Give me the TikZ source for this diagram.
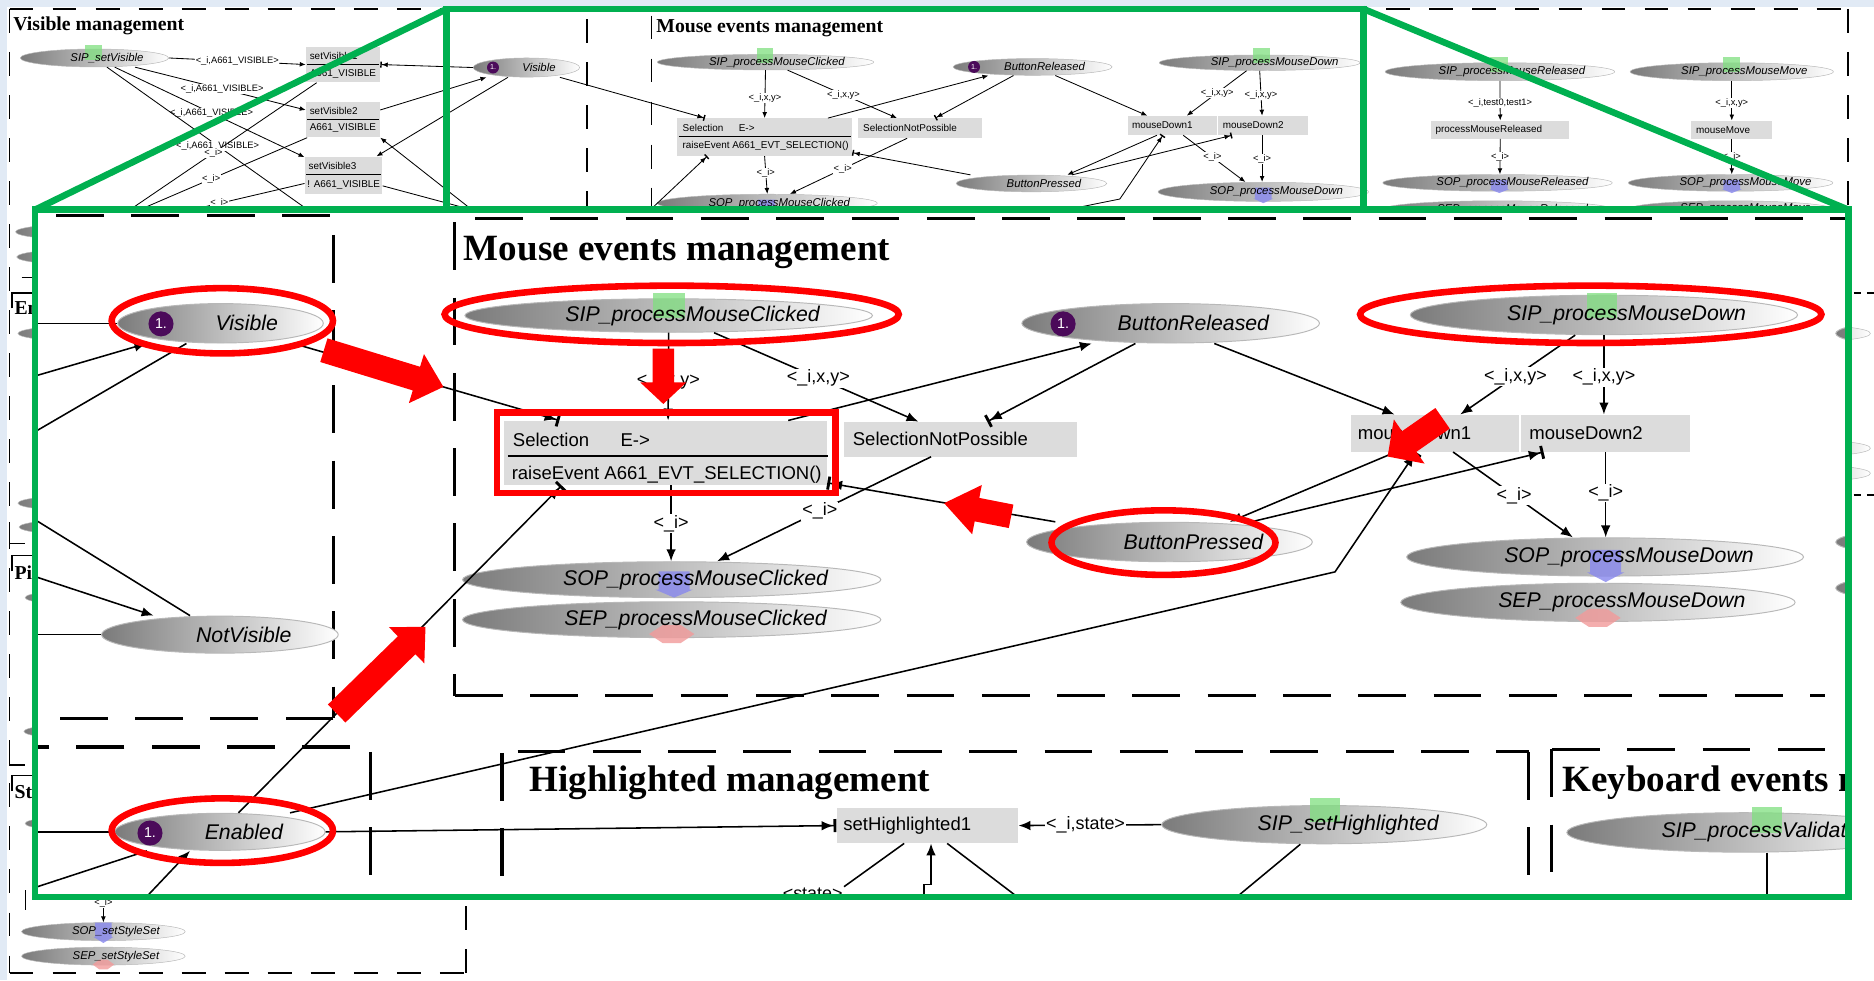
\documentclass[tikz,border=0pt]{standalone}
\usepackage{fontspec}
\setmainfont{Liberation Sans}
\newfontfamily\titlefont{Liberation Serif}
\usetikzlibrary{arrows.meta,shapes.geometric}

\definecolor{pagebg}{HTML}{E1EAF5}
\definecolor{zoomgreen}{HTML}{00B050}
\definecolor{hlred}{HTML}{FF0000}
\definecolor{boxgray}{HTML}{DCDCDC}
\definecolor{tokpurple}{HTML}{4B0A5A}
\definecolor{sipgreen}{HTML}{7FE07F}
\definecolor{sopblue}{HTML}{8888EE}
\definecolor{seppink}{HTML}{F29A9A}

\tikzset{
 ellbase/.style={ellipse, inner sep=0pt, left color=black!52, right color=white},
 ovellsh/.style={ellbase, draw=black!28, line width=0.4pt},
 inellsh/.style={ellbase, draw=black!28, line width=0.8pt},
 ovtxt/.style={inner sep=0pt, font=\fontsize{9.5}{10}\selectfont\itshape},
 intxt/.style={inner sep=0pt, font=\fontsize{17.8}{19}\selectfont\itshape},
 ovbox/.style={rectangle, fill=boxgray, inner sep=0pt},
 inbox/.style={rectangle, fill=boxgray, inner sep=0pt},
 ovboxtxt/.style={anchor=west, inner sep=0pt, font=\fontsize{8.3}{9}\selectfont},
 inboxtxt/.style={anchor=west, inner sep=0pt, font=\fontsize{15.5}{17}\selectfont},
 ovlbl/.style={fill=white, inner sep=0.5pt, font=\fontsize{7.8}{8}\selectfont},
 inlbl/.style={fill=white, inner sep=1pt, font=\fontsize{15}{16}\selectfont},
 ovline/.style={draw=black, line width=0.7pt},
 ovarr/.style={ovline, -{Latex[length=5pt,width=4pt]}},
 ovtb/.style={ovline, -{Latex[length=5pt,width=4pt]Bar[width=5pt,line width=1.2pt]}},
 inln/.style={draw=black, line width=1.3pt},
 inarr/.style={inln, -{Latex[length=10pt,width=8pt]}},
 intb/.style={inln, -{Latex[length=10pt,width=8pt]Bar[width=11pt,line width=2.4pt]}},
 ovdash/.style={draw=black, line width=1.4pt, dash pattern=on 20pt off 16pt},
 shortdash/.style={draw=black, line width=1.2pt, dash pattern=on 6pt off 5pt},
 indash/.style={draw=black, line width=2.6pt, dash pattern=on 40pt off 23pt},
 tokov/.style={circle, fill=tokpurple, text=white, inner sep=0pt, minimum size=10pt, font=\fontsize{6}{6}\selectfont},
 tokin/.style={circle, fill=tokpurple, text=white, inner sep=0pt, minimum size=21pt, font=\fontsize{12}{12}\selectfont},
 hl/.style={draw=hlred, line width=5.5pt},
 zoomframe/.style={draw=zoomgreen, line width=5.5pt},
 ovtitle/.style={anchor=base west, inner sep=0pt, font=\titlefont\bfseries\fontsize{16.5}{17}\selectfont},
 intitle/.style={anchor=base west, inner sep=0pt, font=\titlefont\bfseries\fontsize{31}{33}\selectfont},
}

% place: name, centre, width, height, text x-offset, text, marker code
\newcommand\ovell[7]{%
 \node[ovellsh, minimum width=#3pt, minimum height=#4pt] (#1) at (#2) {};
 #7
 \node[ovtxt] (#1-t) at ([xshift=#5pt]#1.center) {#6};}
\newcommand\inell[7]{%
 \node[inellsh, minimum width=#3pt, minimum height=#4pt] (#1) at (#2) {};
 #7
 \node[intxt] (#1-t) at ([xshift=#5pt]#1.center) {#6};}
% input place marker: x1, y1, x2, y2
\newcommand\sipmark[4]{\fill[sipgreen,opacity=0.75] (#1,#2) rectangle (#3,#4);}
% output place marker: centre x, top, bottom, half width
\newcommand\sopmark[4]{\fill[sopblue,opacity=0.8] ({#1-#4},#2) -- ({#1+#4},#2) -- ({#1+#4},{#3-0.3*(#3-#2)}) -- ({#1+1.2*#4},{#3-0.3*(#3-#2)}) -- (#1,#3) -- ({#1-1.2*#4},{#3-0.3*(#3-#2)}) -- ({#1-#4},{#3-0.3*(#3-#2)}) -- cycle;}
% exception place marker: centre x, centre y, half width, half height
\newcommand\sepmark[4]{\fill[seppink,opacity=0.8] ({#1-#3},#2) -- ({#1-0.4*#3},{#2-#4}) -- ({#1+0.4*#3},{#2-#4}) -- ({#1+#3},#2) -- ({#1+0.4*#3},{#2+#4}) -- ({#1-0.4*#3},{#2+#4}) -- cycle;}
% red block arrow: tail, angle, length, shaft width, head width, head length
\newcommand\blockarrow[6]{\fill[hlred, shift={(#1)}, rotate=#2] (0,{-#4/2}) -- ({#3-#6},{-#4/2}) -- ({#3-#6},{-#5/2}) -- (#3,0) -- ({#3-#6},{#5/2}) -- ({#3-#6},{#4/2}) -- (0,{#4/2}) -- cycle;}

\begin{document}
\begin{tikzpicture}[x=1pt,y=-1pt]
\useasboundingbox (0,0) rectangle (1568,820);
\fill[pagebg] (0,0) rectangle (1568,820);
\fill[white] (6,6) rectangle (1568,820);

% ================= overview of the whole net =================
\draw[ovdash] (8,7.5) -- (1546.5,7.5);
\draw[ovdash] (8,7.5) -- (8,814);
\draw[ovdash] (8,814) -- (390,814);
\draw[ovdash] (390,814) -- (390,751);
\draw[ovdash] (1546.5,7.5) -- (1546.5,178);
\draw[ovdash] (491,16) -- (491,178);
\draw[ovdash] (545,13) -- (545,178);

\node[ovtitle] (ovtVis) at (11,25.7) {Visible management};
\node[ovtitle] (ovtMouse) at (549,27.6) {Mouse events management};
\node[ovtitle] (ovtEn) at (12,263) {En};
\node[ovtitle] (ovtPi) at (12,484.5) {Pi};
\node[ovtitle] (ovtSt) at (12,668.5) {St};
\draw[ovline, line width=1.2pt] (18,232) -- (28,232);
\draw[ovline, line width=1.2pt] (10,258) -- (10,245) -- (29,245);
\draw[ovline, line width=1.2pt] (8,437) -- (8,454.6) -- (21,454.6);
\draw[ovline, line width=1.2pt] (10,478) -- (10,465) -- (29,465);
\draw[ovline, line width=1.2pt] (8,630) -- (8,640) -- (21,640);
\draw[ovline, line width=1.2pt] (10,662) -- (10,649) -- (29,649);

\foreach \i/\y/\x in {1/194/78, 2/215/79, 3/279/80, 4/421/80, 5/441/81, 6/500/86, 7/612/85, 8/689/86}
  \node[ovellsh, minimum width=130pt, minimum height=14pt] (ovL\i) at (\x,\y) {};
\foreach \i/\y in {1/279, 2/375, 3/396}
  \node[ovellsh, minimum width=110pt, minimum height=14pt] (ovR\i) at (1510,\y) {};
\draw[shortdash] (1551,245) -- (1568,245);
\draw[shortdash] (1551,414) -- (1568,414);

% Visible management
\ovell{ovsipsv}{79,48.5}{124}{15}{10.5}{SIP\_setVisible}{\sipmark{71}{38}{85}{50}}
\node[ovbox, minimum width=62pt, minimum height=30pt] (ovsv1) at (287,54) {};
\draw[line width=0.7pt] (257,54) -- (317,54);
\node[ovboxtxt] (ovsv1-a) at (259,47) {setVisible1};
\node[ovboxtxt] (ovsv1-b) at (259,62) {A661\_VISIBLE};
\node[ovbox, minimum width=62pt, minimum height=30pt] (ovsv2) at (287,100) {};
\draw[line width=0.7pt] (257,100) -- (317,100);
\node[ovboxtxt] (ovsv2-a) at (259,92.5) {setVisible2};
\node[ovboxtxt] (ovsv2-b) at (259,107.5) {A661\_VISIBLE};
\node[ovbox, minimum width=65pt, minimum height=31pt] (ovsv3) at (287.5,146.5) {};
\draw[line width=0.7pt] (256,146) -- (319,146);
\node[ovboxtxt] (ovsv3-a) at (258,138.5) {setVisible3};
\node[ovboxtxt] (ovsv3-b) at (257,154.5) {! A661\_VISIBLE};
\ovell{ovvis}{440.5,56.5}{89}{16}{10.5}{Visible}{\node[tokov] (ovvis-k) at (412.5,56.5) {1.};}

\coordinate (ovc1) at (261,178);
\coordinate (ovc2) at (105,178);
\coordinate (ovc3) at (111,178);
\coordinate (ovc4) at (150,178);
\coordinate (ovc5) at (404,178);
\coordinate (ovc6) at (398,178);
\draw[ovarr] (ovsipsv.east) -- node[ovlbl] {<\_i,A661\_VISIBLE>} (ovsv1.west);
\draw[ovarr] ([xshift=34pt]ovsipsv.south) -- node[ovlbl,pos=0.51] {<\_i,A661\_VISIBLE>} ([yshift=8pt]ovsv2.west);
\draw[ovarr] ([xshift=17pt]ovsipsv.south) -- node[ovlbl,pos=0.51] {<\_i,A661\_VISIBLE>} ([yshift=15pt]ovsv3.west);
\draw[ovline] ([xshift=10.5pt]ovsipsv.south) -- node[ovlbl,pos=0.54] {<\_i,A661\_VISIBLE>} (ovc1);
\draw[ovline] ([xshift=-22pt]ovsv1.south) -- node[ovlbl,pos=0.54] {<\_i>} (ovc2);
\draw[ovline] ([xshift=-30pt]ovsv2.south) -- node[ovlbl,pos=0.55] {<\_i>} (ovc3);
\draw[ovline] ([yshift=-7pt]ovsv3.west) -- node[ovlbl,pos=0.68] {<\_i>} (ovc4);
\draw[ovtb] (ovvis.west) -- (ovsv1.east);
\draw[ovarr] ([yshift=8pt]ovsv2.east) -- ([xshift=-33.5pt]ovvis.south);
\draw[ovarr] ([xshift=-15.5pt]ovvis.south) -- ([xshift=27.5pt]ovsv3.north);
\draw[ovline] ([yshift=-9pt]ovsv3.east) -- (ovc5);
\draw[ovarr] (ovc6) -- (ovsv2.south east);

% Mouse events management
\ovell{ovsipmc}{640.5,52}{181}{13}{9.5}{SIP\_processMouseClicked}{\sipmark{633}{40}{647}{53}}
\node[ovbox, minimum width=146.5pt, minimum height=31.5pt] (ovsel) at (639.75,114.75) {};
\draw[line width=0.7pt] (568,114.5) -- (712,114.5);
\node[ovboxtxt] (ovsel-a) at (571,107) {Selection};
\node[ovboxtxt] (ovsel-b) at (618,107) {E->};
\node[ovboxtxt] (ovsel-c) at (571,122.5) {raiseEvent A661\_EVT\_SELECTION()};
\node[ovbox, minimum width=104pt, minimum height=16.5pt] (ovsnp) at (770,107.25) {};
\node[ovboxtxt] (ovsnp-t) at (722,107.25) {SelectionNotPossible};
\ovell{ovbtnrel}{864,56}{133}{14}{10}{ButtonReleased}{\node[tokov] (ovbtnrel-k) at (815,56) {1.};}
\ovell{ovsipmd}{1054,52.5}{168}{13}{12.5}{SIP\_processMouseDown}{\sipmark{1048.5}{40}{1063}{53}}
\node[ovbox, minimum width=74pt, minimum height=16pt] (ovmd1) at (981,105) {};
\node[ovboxtxt] (ovmd1-t) at (947,105) {mouseDown1};
\node[ovbox, minimum width=75.5pt, minimum height=16pt] (ovmd2) at (1056.75,105) {};
\node[ovboxtxt] (ovmd2-t) at (1023,105) {mouseDown2};
\ovell{ovbtnpr}{863,153.5}{126}{14}{10.5}{ButtonPressed}{}
\ovell{ovsopmd}{1057,160.5}{176}{16}{11}{SOP\_processMouseDown}{\sopmark{1057}{157}{170}{7}}
\ovell{ovsopmc}{642,170}{184}{15}{10}{SOP\_processMouseClicked}{\sopmark{641.5}{167}{178}{7}}

\draw[ovarr] (ovsipmc.south) -- node[ovlbl,pos=0.58] {<\_i,x,y>} (ovsel.north);
\draw[ovarr] ([xshift=18.5pt]ovsipmc.south) -- node[ovlbl,pos=0.51] {<\_i,x,y>} ([xshift=-19.5pt]ovsnp.north);
\draw[ovarr] ([xshift=53pt]ovsel.north) -- ([xshift=-37pt]ovbtnrel.south);
\draw[ovtb] ([xshift=-16pt]ovbtnrel.south) -- ([xshift=12.5pt]ovsnp.north);
\draw[ovarr] ([xshift=19pt]ovbtnrel.south) -- ([xshift=-21pt]ovmd1.north);
\draw[ovarr] ([xshift=-11pt]ovsipmd.south) -- node[ovlbl,pos=0.49] {<\_i,x,y>} ([xshift=12pt]ovmd1.north);
\draw[ovarr] (ovsipmd.south) -- node[ovlbl,pos=0.55] {<\_i,x,y>} ([xshift=-0.75pt]ovmd2.north);
\draw[ovarr] ([xshift=9pt]ovmd1.south) -- node[ovlbl,pos=0.47] {<\_i>} ([xshift=-15pt]ovsopmd.north);
\draw[ovarr] ([xshift=-0.75pt]ovmd2.south) -- node[ovlbl,pos=0.5] {<\_i>} ([xshift=-1pt]ovsopmd.north);
\draw[ovarr] ([xshift=-13pt]ovmd1.south) -- ([xshift=30pt]ovbtnpr.north);
\draw[ovtb] ([xshift=34pt]ovbtnpr.north) -- ([xshift=-26pt]ovmd2.south);
\draw[ovtb] ([xshift=-51pt]ovbtnpr.north) -- ([yshift=-13pt]ovsel.east);
\draw[ovarr] ([xshift=-11pt]ovsnp.south) -- node[ovlbl,pos=0.55] {<\_i>} ([xshift=19pt]ovsopmc.north);
\draw[ovarr] (ovsel.south) -- node[ovlbl,pos=0.45] {<\_i>} (ovsopmc.north);
\draw[ovtb] ([xshift=28pt]ovvis.south) -- ([xshift=-50pt]ovsel.north);
\coordinate (ovc9) at (541.5,178);
\draw[ovtb] (ovc9) -- ([xshift=-48pt]ovsel.south);
\coordinate (ovc10) at (880,178);
\coordinate (ovc11) at (937,166.5);
\draw[ovtb] (ovc10) -- (ovc11) -- ([xshift=-8pt]ovmd1.south);

% released / move
\ovell{ovsipmr}{1255,60}{192}{15}{10}{SIP\_processMouseReleased}{\sipmark{1247}{47.5}{1262}{60}}
\node[ovbox, minimum width=115.5pt, minimum height=15pt] (ovpmr) at (1255.25,108.5) {};
\node[ovboxtxt] (ovpmr-t) at (1201,108.5) {processMouseReleased};
\ovell{ovsopmr}{1253,153}{192}{14}{12.5}{SOP\_processMouseReleased}{\sopmark{1254.5}{150.5}{161.5}{7}}
\ovell{ovsepmr}{1253,175}{192}{14}{12.5}{SEP\_processMouseReleased}{}
\ovell{ovsipmm}{1449,60}{170}{15}{10.5}{SIP\_processMouseMove}{\sipmark{1442}{47.5}{1456}{60}}
\node[ovbox, minimum width=68pt, minimum height=15pt] (ovmm) at (1449,108.5) {};
\node[ovboxtxt] (ovmm-t) at (1419,108.5) {mouseMove};
\ovell{ovsopmm}{1448,153}{171}{14}{12.5}{SOP\_processMouseMove}{\sopmark{1449}{150.5}{161.5}{7}}
\ovell{ovsepmm}{1448,175}{171}{14}{12.5}{SEP\_processMouseMove}{}
\draw[ovarr] (ovsipmr.south) -- node[ovlbl,pos=0.55] {<\_i,test0,test1>} (ovpmr.north);
\draw[ovarr] (ovpmr.south) -- node[ovlbl,pos=0.5] {<\_i>} ([xshift=2pt]ovsopmr.north);
\draw[ovarr] (ovsipmm.south) -- node[ovlbl,pos=0.55] {<\_i,x,y>} (ovmm.north);
\draw[ovarr] (ovmm.south) -- node[ovlbl,pos=0.5] {<\_i>} ([xshift=1pt]ovsopmm.north);

% style set
\ovell{ovsopss}{86.5,779.5}{137}{15}{10.5}{SOP\_setStyleSet}{\sopmark{86.5}{772}{789}{7}}
\ovell{ovsepss}{86.5,800}{137}{15}{10.5}{SEP\_setStyleSet}{\sepmark{86.5}{807}{9}{4}}
\coordinate (ovcSS) at (86.5,745);
\draw[ovarr] (ovcSS) -- node[ovlbl,pos=0.4] {<\_i>} (ovsopss.north);
\coordinate (ovcSt1) at (21,745);
\coordinate (ovcSt2) at (21,761);
\draw[ovline] (ovcSt1) -- (ovcSt2);

% ================= enlarged view =================
\begin{scope}
\clip (29.3,175.5) rectangle (1546.6,750.6);
\fill[white] (29.3,175.5) rectangle (1546.6,750.6);

% section frames
\draw[indash, dash phase=44] (28,180) -- (279,180);
\draw[indash, dash phase=46.5] (279,180) -- (279,601);
\draw[indash] (279,601) -- (28,601);
\draw[indash] (293,625) -- (28,625);
\draw[indash] (310,629) -- (310,751);
\draw[indash, dash phase=46] (380.5,182.5) -- (1548,182.5);
\draw[indash] (380.5,186) -- (380.5,582);
\draw[indash] (380.5,582) -- (1527,582);
\draw[indash, dash phase=50] (420,629) -- (1279,629);
\draw[indash] (420,630) -- (420,751);
\draw[indash] (1279,629) -- (1279,751);
\draw[indash] (1298.5,627) -- (1527,627);
\draw[indash] (1298.5,627) -- (1298.5,751);

\node[intitle] (tMouse) at (388,217.6) {Mouse events management};
\node[intitle] (tHigh) at (443,662) {Highlighted management};
\node[intitle] (tKey) at (1307,662) {Keyboard events management};

% places
\inell{vis}{184.5,270.5}{172}{33}{22}{Visible}{\node[tokin] (vis-k) at (134.7,271) {1.};}
\inell{notvis}{184,531}{198}{31}{20}{NotVisible}{}
\inell{enab}{184,696}{176}{31}{20}{Enabled}{\node[tokin] (enab-k) at (125.5,697) {1.};}
\inell{sipmc}{559.5,264}{341}{28}{20}{SIP\_processMouseClicked}{\sipmark{546}{245}{573}{266}}
\inell{sopmc}{562,485}{350}{30}{20}{SOP\_processMouseClicked}{\sopmark{564}{478}{500}{13}}
\inell{sepmc}{562,518.5}{350}{30}{20}{SEP\_processMouseClicked}{\sepmark{562}{530.5}{19}{7.5}}
\inell{btnrel}{979.5,270.5}{249}{33}{19}{ButtonReleased}{\node[tokin] (btnrel-k) at (889.5,271) {1.};}
\inell{btnpr}{978.5,453.5}{239}{33}{20}{ButtonPressed}{}
\inell{sipmd}{1342,263.5}{324}{33}{19}{SIP\_processMouseDown}{\sipmark{1328}{245}{1353}{266}}
\inell{sopmd}{1343,466}{332}{32}{20}{SOP\_processMouseDown}{\sopmark{1343.5}{460}{487}{13}}
\inell{sepmd}{1337,504}{330}{32}{20}{SEP\_processMouseDown}{\sepmark{1337}{517}{19}{7.5}}
\inell{sipsh}{1108,690}{272}{32}{20}{SIP\_setHighlighted}{\sipmark{1096}{668}{1121}{688}}
\inell{sipval}{1459,696.5}{296}{33}{20.5}{SIP\_processValidation}{\sipmark{1466}{675}{1491}{697}}
\foreach \i/\y in {1/279, 2/453.5, 3/492}
  \node[inellsh, minimum width=300pt, minimum height=30pt] (inR\i) at (1686,\y) {};

% transitions
\node[inbox, minimum width=270pt, minimum height=54pt] (sel) at (557,379) {};
\draw[line width=1.3pt] (425,381.6) -- (692.5,381.6);
\node[inboxtxt] (sel-a) at (429,368) {Selection};
\node[inboxtxt] (sel-b) at (519,368) {E->};
\node[inboxtxt] (sel-c) at (428,397.5) {raiseEvent A661\_EVT\_SELECTION()};
\node[inbox, minimum width=195pt, minimum height=29pt] (snp) at (803.5,367.5) {};
\node[inboxtxt] (snp-t) at (713.4,367.5) {SelectionNotPossible};
\node[inbox, minimum width=140.4pt, minimum height=31pt] (md1) at (1200.8,362.5) {};
\node[inboxtxt] (md1-t) at (1136,362.5) {mouseDown1};
\node[inbox, minimum width=141pt, minimum height=31pt] (md2) at (1343.5,362.5) {};
\node[inboxtxt] (md2-t) at (1279.5,362.5) {mouseDown2};
\node[inbox, minimum width=152pt, minimum height=29.5pt] (sh1) at (776,690.75) {};
\node[inboxtxt] (sh1-t) at (705.5,690.75) {setHighlighted1};

% arcs
\draw[inarr] (sipmc.south) -- node[inlbl,pos=0.55] {<\_i,x,y>} ([xshift=2pt]sel.north);
\draw[inarr] ([xshift=38pt]sipmc.south) -- node[inlbl,pos=0.51] {<\_i,x,y>} ([xshift=-35pt]snp.north);
\draw[inarr] ([xshift=102.5pt]sel.north) -- ([xshift=-66pt]btnrel.south);
\draw[intb] ([xshift=-29.5pt]btnrel.south) -- ([xshift=22.5pt]snp.north);
\draw[inarr] ([xshift=36.5pt]btnrel.south) -- ([xshift=-34pt]md1.north);
\draw[inarr] ([xshift=-24pt]sipmd.south) -- node[inlbl,pos=0.52] {<\_i,x,y>} ([xshift=21pt]md1.north);
\draw[inarr] (sipmd.south) -- node[inlbl,pos=0.53] {<\_i,x,y>} ([xshift=-1.5pt]md2.north);
\draw[inarr] ([xshift=15pt]md1.south) -- node[inlbl,pos=0.51] {<\_i>} ([xshift=-27pt]sopmd.north);
\draw[inarr] (md2.south) -- node[inlbl,pos=0.48] {<\_i>} ([xshift=0.5pt]sopmd.north);
\draw[inarr] ([xshift=-33pt]md1.south) -- ([xshift=50.5pt]btnpr.north);
\draw[intb] ([xshift=68.5pt]btnpr.north) -- ([xshift=-52pt]md2.south);
\coordinate (kink) at (1117,478.5);
\draw[intb] ([xshift=58.7pt]enab.north) -- (kink) -- ([xshift=-16pt]md1.south);
\draw[intb] ([xshift=15.5pt]enab.north) -- ([xshift=-87pt]sel.south);
\draw[intb] ([xshift=61pt]vis.south) -- ([xshift=-89pt]sel.north);
\draw[intb] ([xshift=-95.5pt]btnpr.north) -- ([yshift=-25pt]sel.east);
\draw[inarr] ([xshift=-24.5pt]snp.south) -- node[inlbl,pos=0.52] {<\_i>} ([xshift=38pt]sopmc.north);
\draw[inarr] ([xshift=4.5pt]sel.south) -- node[inlbl,pos=0.5] {<\_i>} ([xshift=-0.5pt]sopmc.north);

\coordinate (lv1) at (28,270.5);
\coordinate (lv2) at (28,315);
\coordinate (lv3) at (28,362);
\draw[inln] (lv1) -- (vis.west);
\draw[inarr] (lv2) -- ([xshift=-62pt]vis.south);
\draw[inln] (lv3) -- ([xshift=-28.5pt]vis.south);
\coordinate (ln1) at (28,531);
\coordinate (ln2) at (28,434);
\coordinate (ln3) at (28,482);
\draw[inln] (ln1) -- (notvis.west);
\draw[inln] (ln2) -- ([xshift=-25pt]notvis.north);
\draw[inarr] (ln3) -- ([xshift=-55.5pt]notvis.north);
\coordinate (le1) at (28,696);
\coordinate (le2) at (121,752);
\coordinate (le3) at (28,743);
\draw[inln] (le1) -- (enab.west);
\draw[inarr] (le2) -- ([xshift=-25pt]enab.south);
\draw[inln] (le3) -- ([xshift=-61pt]enab.south);
\draw[intb] (enab.east) -- (sh1.west);
\draw[inarr] (sipsh.west) -- node[inlbl,pos=0.53] {<\_i,state>} (sh1.east);
\node[inlbl] (lstate) at (680,748) {<state>};
\draw[inln] ([xshift=-19.5pt]sh1.south) -- (lstate.north east);
\coordinate (lsh2) at (773,752);
\draw[inarr] (lsh2) -- ++(0,-12) -- ++(6,0) -- ([xshift=3pt]sh1.south);
\coordinate (lsh3) at (852,751);
\draw[inln] ([xshift=16.5pt]sh1.south) -- (lsh3);
\coordinate (lsh4) at (1033,752);
\draw[inln] ([xshift=-20pt]sipsh.south) -- (lsh4);
\node[inlbl] (lval) at (1478.5,757) {<\_i>};
\draw[inln] ([xshift=19.5pt]sipval.south) -- (lval.north);

% highlights
\draw[hl] (186,268.4) ellipse [x radius=92.6pt, y radius=27.3pt];
\draw[hl] (562,263) ellipse [x radius=190pt, y radius=24pt];
\draw[hl] (1331,263) ellipse [x radius=193pt, y radius=24pt];
\draw[hl] (973.5,454) ellipse [x radius=93.7pt, y radius=27pt];
\draw[hl] (186,695) ellipse [x radius=92.6pt, y radius=27pt];
\draw[hl] (416,345) rectangle (699,412.5);
\coordinate (ra1) at (271,293);
\coordinate (ra2) at (555,291.6);
\coordinate (ra3) at (846,432);
\coordinate (ra4) at (1207,350);
\coordinate (ra5) at (281.7,597);
\blockarrow{ra1}{-17.07}{104.6}{20.7}{43}{23.6}
\blockarrow{ra2}{-90}{46.4}{18}{38.5}{18}
\blockarrow{ra3}{168.9}{57.1}{20}{42}{28}
\blockarrow{ra4}{-145.2}{56}{21}{45}{22}
\blockarrow{ra5}{44.3}{103.8}{21}{42.4}{22}
\end{scope}

% zoom frame
\draw[zoomframe] (373.8,7.5) rectangle (1140.8,175.5);
\draw[zoomframe] (29.3,175.5) rectangle (1546.6,750.6);
\draw[zoomframe] (373.8,7.5) -- (29.3,175.5);
\draw[zoomframe] (1140.8,7.5) -- (1546.6,175.5);
\end{tikzpicture}
\end{document}
